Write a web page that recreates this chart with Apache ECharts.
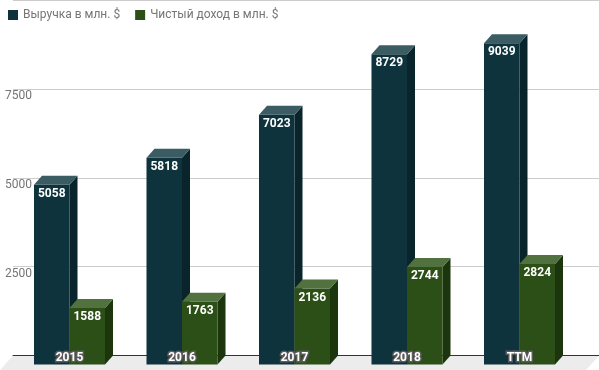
<!DOCTYPE html>
<html>
<head>
<meta charset="utf-8">
<script src="https://cdn.jsdelivr.net/npm/echarts@6/dist/echarts.min.js"></script>
<style>
html,body{margin:0;padding:0;background:#fff;}
#chart{width:599px;height:370px;}
</style>
</head>
<body>
<div id="chart"></div>
<script>
const categories = ['2015', '2016', '2017', '2018', 'TTM'];
const revenue = [5058, 5818, 7023, 8729, 9039];
const netIncome = [1588, 1763, 2136, 2744, 2824];
const seriesNames = ['Выручка в млн. $', 'Чистый доход в млн. $'];
const yMin = 0, yMax = 10000, yStep = 2500;

const DX = 8, DY = 9;
const darkColors = { front: '#0e333d', top: '#3b5c62', side: '#09252b' };
const greenColors = { front: '#2b4f16', top: '#51713f', side: '#1b350d' };
const FONT = 'Roboto';

function makeBar(side, colors) {
  return function (params, api) {
    const idx = api.value(0), v = api.value(1);
    const top = api.coord([idx, v]);
    const base = api.coord([idx, 0]);
    const bw = api.size([1, 0])[0] * 0.3156;
    const x0 = side < 0 ? top[0] - bw : top[0];
    const x1 = x0 + bw;
    const yT = top[1], yB = base[1];
    return {
      type: 'group',
      children: [
        { type: 'polygon', shape: { points: [[x1, yT], [x1 + DX, yT - DY], [x1 + DX, yB - DY], [x1, yB]] }, style: { fill: colors.side } },
        { type: 'rect', shape: { x: x0, y: yT, width: bw, height: yB - yT }, style: { fill: colors.front } },
        { type: 'polygon', shape: { points: [[x0, yT], [x1, yT], [x1 + DX, yT - DY], [x0 + DX, yT - DY]] }, style: { fill: colors.top } },
        { type: 'text', style: { text: String(v), x: (x0 + x1) / 2, y: yT + 9, align: 'center', verticalAlign: 'middle', fill: '#ffffff', font: 'bold 12px ' + FONT } }
      ]
    };
  };
}

function floorRender(params, api) {
  const cs = params.coordSys;
  const y0 = api.coord([0, 0])[1];
  const d = 16;
  const ddx = DX * d / DY;
  return {
    type: 'polygon',
    shape: { points: [[cs.x, y0], [cs.x + cs.width, y0], [cs.x + cs.width - ddx, y0 + d], [cs.x - ddx, y0 + d]] },
    style: { fill: '#ececec' }
  };
}

const chart = echarts.init(document.getElementById('chart'), null, { renderer: 'canvas' });
chart.setOption({
  animation: false,
  textStyle: { fontFamily: FONT },
  legend: {
    left: 3, top: 4, itemWidth: 10, itemHeight: 10, itemGap: 15, icon: 'rect',
    textStyle: { color: '#757575', fontSize: 12, fontFamily: FONT },
    data: seriesNames
  },
  grid: [
    { left: 13, right: 0, top: 0, bottom: 14.5 },
    { left: 13.25, right: 23.25, top: 9, bottom: 5.5 }
  ],
  xAxis: [
    { gridIndex: 0, type: 'category', data: [''], z: 1.5,
      axisLine: { show: true, lineStyle: { color: '#333', width: 1 } },
      axisTick: { show: false }, axisLabel: { show: false }, splitLine: { show: false } },
    { gridIndex: 1, type: 'category', data: categories, z: 10,
      axisLine: { show: false }, axisTick: { show: false },
      axisLabel: { margin: -7, verticalAlign: 'middle', color: '#ffffff', fontWeight: 'bold', fontSize: 12, fontFamily: FONT,
        textBorderColor: '#5a5a5a', textBorderWidth: 3 } }
  ],
  yAxis: [
    { gridIndex: 0, type: 'value', min: yMin, max: yMax, interval: yStep,
      axisLine: { show: false }, axisTick: { show: false },
      splitLine: { lineStyle: { color: '#cccccc', width: 1 } },
      axisLabel: { align: 'left', margin: 8, verticalAlign: 'top', lineHeight: 15, color: '#757575', fontSize: 12, fontFamily: FONT,
        showMinLabel: false, showMaxLabel: false, formatter: function (v) { return String(v); } } },
    { gridIndex: 1, type: 'value', min: yMin, max: yMax, interval: yStep, show: false, splitLine: { show: false } }
  ],
  series: [
    { type: 'custom', name: 'floor', xAxisIndex: 0, yAxisIndex: 0, z: 1, data: [[0, 0]], renderItem: floorRender, silent: true },
    { type: 'custom', name: seriesNames[0], xAxisIndex: 1, yAxisIndex: 1, z: 2, itemStyle: { color: darkColors.front },
      data: revenue.map((v, i) => [i, v]), encode: { x: 0, y: 1 }, renderItem: makeBar(-1, darkColors) },
    { type: 'custom', name: seriesNames[1], xAxisIndex: 1, yAxisIndex: 1, z: 3, itemStyle: { color: greenColors.front },
      data: netIncome.map((v, i) => [i, v]), encode: { x: 0, y: 1 }, renderItem: makeBar(1, greenColors) }
  ]
});
</script>
</body>
</html>
